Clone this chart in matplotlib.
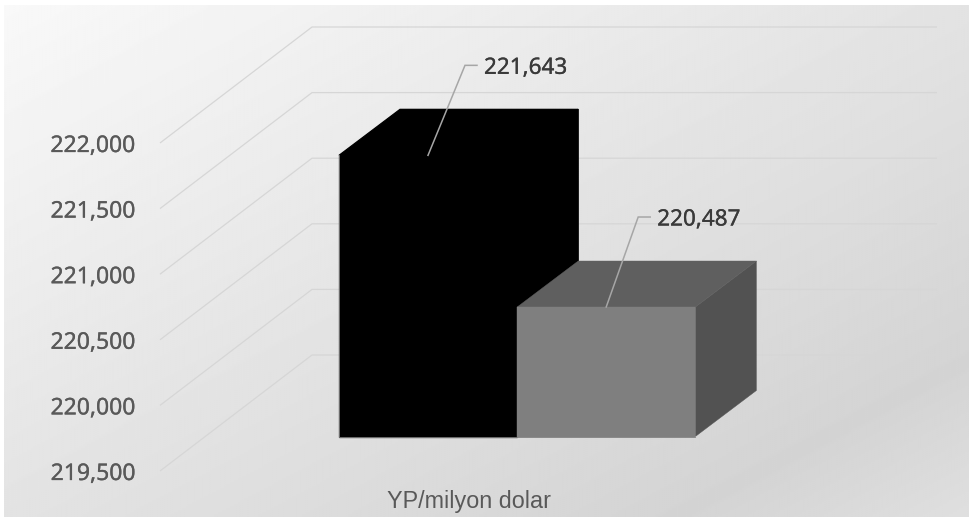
import numpy as np
from matplotlib import pyplot as plt
from matplotlib import patheffects as pe
from matplotlib.patches import Polygon
from matplotlib.ticker import FuncFormatter

category = ['YP/milyon dolar']
values = [221643, 220487]
value_labels = ['221,643', '220,487']
y_ticks = [219500, 220000, 220500, 221000, 221500, 222000]

W, H = 970, 517
PX_PER_UNIT = 0.1312
Y_BASE_PX = 471     # pixel row of the 219,500 line at the front
Y_TOP_PX = 27

front_cols = ['#000000', '#7f7f7f']
top_cols = ['#000000', '#5f5f5f']
side_cols = ['#000000', '#525252']
edge_lw = [0.9, 0.3]

fig = plt.figure(figsize=(W / 100, H / 100), dpi=100)
fig.patch.set_facecolor('white')

# background gradient
bg = fig.add_axes([4 / W, 0, 1 - 4 / W, 1 - 5 / H])
xx, yy = np.meshgrid(np.linspace(0, 1, 485), np.linspace(0, 1, 256))
t = (xx + yy) / 2
shade = np.interp(t, [0, 0.85, 1], [0.975, 0.83, 0.875])
bg.imshow(shade, cmap='gray', vmin=0, vmax=1, aspect='auto', interpolation='bilinear')
bg.axis('off')

# main axes, x is in pixels so the fake depth is easy to work out
ax = fig.add_axes([160 / W, 1 - Y_BASE_PX / H, (937 - 160) / W, (Y_BASE_PX - Y_TOP_PX) / H])
ax.patch.set_alpha(0)
ax.set_xlim(160, 937)
ax.set_ylim(y_ticks[0], y_ticks[0] + (Y_BASE_PX - Y_TOP_PX) / PX_PER_UNIT)
for s in ax.spines.values():
    s.set_visible(False)


def up(px):
    return px / PX_PER_UNIT


# gridlines: slanted part on the floor side then flat along the back wall
for v in y_ticks:
    ax.plot([160, 312, 937], [v, v + up(116), v + up(116)], color='#d6d6d6', lw=0.9,
            clip_on=False, zorder=1, solid_capstyle='butt')

# bars
bar_left = 339
bar_w = 178.2
depth_x, depth_y = 61, 46
lift = up(Y_BASE_PX - 436.5)
base = y_ticks[0] + lift
for i in range(len(values)):
    v = values[i] + lift
    x0 = bar_left + i * bar_w
    x1 = x0 + bar_w
    dy = up(depth_y)
    ax.add_patch(Polygon([(x1, base), (x1 + depth_x, base + dy), (x1 + depth_x, v + dy), (x1, v)],
                         fc=side_cols[i], ec=side_cols[i], lw=edge_lw[i], clip_on=False, zorder=3 + i))
    ax.add_patch(Polygon([(x0, v), (x0 + depth_x, v + dy), (x1 + depth_x, v + dy), (x1, v)],
                         fc=top_cols[i], ec=top_cols[i], lw=edge_lw[i], clip_on=False, zorder=3 + i))
    ax.add_patch(Polygon([(x0, base), (x0, v), (x1, v), (x1, base)],
                         fc=front_cols[i], ec=front_cols[i], lw=edge_lw[i], clip_on=False, zorder=3 + i))
    # thin light edge seen along the bar foot
    ax.plot([x0, x0, x1], [v, base, base], color='#808080', lw=0.6, clip_on=False, zorder=3 + i)
    # leader and value label
    lx = x0 + 89
    ax.plot([lx, lx + 37 - 5 * i, lx + 49 - 5 * i], [v, v + up(90), v + up(90)], color='#a6a6a6', lw=1.1,
            clip_on=False, zorder=6, solid_joinstyle='miter')
    ax.text(lx + 56 - 5 * i, v + up(87), value_labels[i], color='#3a3a3a', fontsize=16.2,
            family='Noto Sans', va='center', ha='left', zorder=7,
            path_effects=[pe.withStroke(linewidth=0.2, foreground='#3a3a3a')])

ax.set_yticks(y_ticks)
ax.yaxis.set_major_formatter(FuncFormatter(lambda v, p: f'{v:,.0f}'))
ax.tick_params(axis='y', length=0, pad=17.5, labelsize=16.5, labelcolor='#595959')
for lab in ax.get_yticklabels():
    lab.set_family('Noto Sans')
    lab.set_path_effects([pe.withStroke(linewidth=0.2, foreground='#595959')])

ax.set_xticks([469])
ax.set_xticklabels(category, family='Liberation Sans', fontsize=16.8, color='#595959')
ax.tick_params(axis='x', length=0, pad=14)

fig.savefig('out.png', dpi=100)
